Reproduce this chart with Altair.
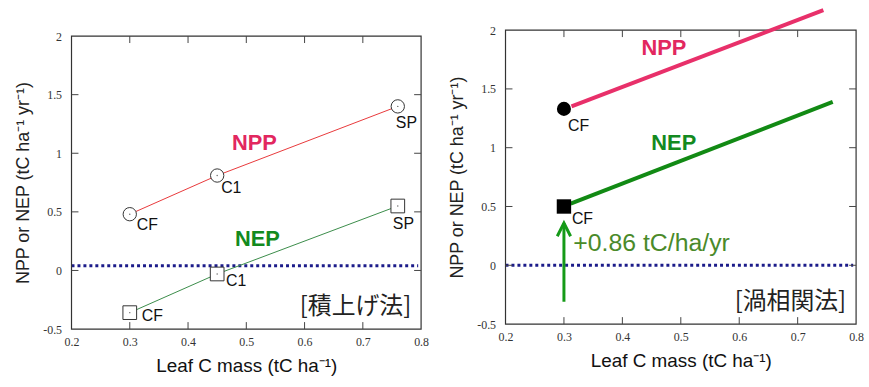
import altair as alt
import pandas as pd

# ---------------- data ----------------
# Left panel: biometric (積上げ法)
sites = ["CF", "C1", "SP"]
leaf_c = [0.30, 0.45, 0.76]
npp_biometric = [0.48, 0.81, 1.40]
nep_biometric = [-0.36, -0.03, 0.55]
zero_line_left = 0.04

# Right panel: eddy covariance (渦相関法)
eddy_sites = ["CF"]
eddy_leaf_c = [0.30]
eddy_npp = [1.33]
eddy_nep = [0.50]
eddy_npp_line_x = [0.313, 0.744]
eddy_npp_line_y = [1.351, 2.17]
eddy_nep_line_x = [0.3115, 0.76]
eddy_nep_line_y = [0.524, 1.39]
arrow_x = [0.30, 0.30]
arrow_y = [-0.31, 0.36]
gain_label = "+0.86 tC/ha/yr"
gain_pos = [0.316, 0.19]
zero_line_right = 0.0
zero_line_x = [0.2, 0.795]

# axes
x_ticks = [0.2, 0.3, 0.4, 0.5, 0.6, 0.7, 0.8]
y_ticks = [-0.5, 0, 0.5, 1, 1.5, 2]
x_inner_ticks = [0.3, 0.4, 0.5, 0.6, 0.7]
y_inner_ticks = [0, 0.5, 1, 1.5]
x_title = "Leaf C mass (tC ha⁻¹)"
y_title = "NPP or NEP (tC ha⁻¹ yr⁻¹)"

# label positions of series names and panel tags
npp_tag_left = [0.514, 1.09]
nep_tag_left = [0.519, 0.27]
npp_tag_right = [0.471, 1.85]
nep_tag_right = [0.488, 1.04]
method_left = "[積上げ法]"
method_right = "[渦相関法]"
method_pos = [0.783, -0.31]

# ---------------- styles ----------------
FONT = "Liberation Sans"
NARROW = "Liberation Sans Narrow"
CJK = "Noto Sans CJK JP"
NPP_TXT = "#e2275f"
NEP_TXT = "#138a20"
TICK_LEN = 7
FRAME = "#333"

xscale = alt.Scale(domain=[0.2, 0.8], nice=False, zero=False)
lab_expr = "'' + datum.value"
xaxis = alt.Axis(title=x_title, values=x_ticks, labelExpr=lab_expr, ticks=False, domain=False,
                 grid=False, labelPadding=8, titlePadding=9, labelFont=NARROW, labelFontSize=12,
                 labelColor="#333", titleFont=FONT, titleFontSize=19, titleFontWeight="normal",
                 titleColor="#111", labelFlush=False)
yaxis = alt.Axis(title=y_title, values=y_ticks, labelExpr=lab_expr, ticks=False, domain=False,
                 grid=False, labelPadding=10, titlePadding=10, labelFont=NARROW, labelFontSize=12,
                 labelColor="#333", titleFont=FONT, titleFontSize=18, titleFontWeight="normal",
                 titleColor="#222", labelFlush=False)


def make_panel(top, H, W):
    """Return encoding helpers for a panel whose plot area spans y = top..H, x = 0..W."""
    yscale = alt.Scale(domain=[-0.5, 2], nice=False, zero=False, range=[H, top])

    def X(f="x"):
        return alt.X(f, type="quantitative", scale=xscale, axis=xaxis)

    def Y(f="y"):
        return alt.Y(f, type="quantitative", scale=yscale, axis=yaxis)

    xt = pd.DataFrame({"x": x_inner_ticks})
    yt = pd.DataFrame({"y": y_inner_ticks})
    st = dict(color="#444", strokeWidth=1)
    frame = pd.DataFrame({"f": [0]})
    layers = [
        alt.Chart(frame).mark_rect(fill="transparent", stroke=FRAME, strokeWidth=1.2).encode(
            x=alt.value(0), x2=alt.value(W), y=alt.value(top), y2=alt.value(H)),
        alt.Chart(xt).mark_rule(**st).encode(x=X(), y=alt.value(H), y2=alt.value(H - TICK_LEN)),
        alt.Chart(xt).mark_rule(**st).encode(x=X(), y=alt.value(top), y2=alt.value(top + TICK_LEN)),
        alt.Chart(yt).mark_rule(**st).encode(y=Y(), x=alt.value(0), x2=alt.value(TICK_LEN)),
        alt.Chart(yt).mark_rule(**st).encode(y=Y(), x=alt.value(W), x2=alt.value(W - TICK_LEN)),
    ]
    return X, Y, layers


def zero_layer(X, Y, level):
    df = pd.DataFrame({"x": [zero_line_x[0]], "x2": [zero_line_x[1]], "y": [level]})
    return alt.Chart(df).mark_rule(color="#1c1c8a", strokeWidth=3, strokeDash=[3, 3]).encode(
        x=X(), x2="x2", y=Y())


def text_at(X, Y, txt, pos, **kw):
    df = pd.DataFrame({"x": [pos[0]], "y": [pos[1]], "t": [txt]})
    return alt.Chart(df).mark_text(**kw).encode(x=X(), y=Y(), text="t")


# ---------------- left panel ----------------
WL, TOPL, HL = 352, 6, 301
X, Y, ticks = make_panel(TOPL, HL, WL)
left_df = pd.DataFrame({"site": sites, "x": leaf_c, "npp": npp_biometric, "nep": nep_biometric})

left_layers = [zero_layer(X, Y, zero_line_left)] + ticks
left_layers += [
    alt.Chart(left_df).mark_line(color="#e8383a", strokeWidth=1).encode(x=X(), y=Y("npp")),
    alt.Chart(left_df).mark_line(color="#3a8c4a", strokeWidth=1).encode(x=X(), y=Y("nep")),
    alt.Chart(left_df).mark_point(shape="circle", size=180, filled=False, fill="white",
                                  fillOpacity=1, stroke="#333", strokeWidth=1, opacity=1
                                  ).encode(x=X(), y=Y("npp")),
    alt.Chart(left_df).mark_point(shape="square", size=190, filled=False, fill="white",
                                  fillOpacity=1, stroke="#333", strokeWidth=1, opacity=1
                                  ).encode(x=X(), y=Y("nep")),
    alt.Chart(left_df).mark_circle(size=2, color="#666", opacity=1).encode(x=X(), y=Y("npp")),
    alt.Chart(left_df).mark_circle(size=2, color="#666", opacity=1).encode(x=X(), y=Y("nep")),
]
npp_off = {"CF": (7, 11), "C1": (4, 13), "SP": (-2, 17)}
nep_off = {"CF": (12, 3), "C1": (9, 7), "SP": (-5, 18)}
for s in sites:
    dfp = left_df[left_df.site == s]
    dx, dy = npp_off[s]
    left_layers.append(alt.Chart(dfp).mark_text(font=FONT, fontSize=16, color="#111", align="left",
                                                 baseline="middle", dx=dx, dy=dy)
                       .encode(x=X(), y=Y("npp"), text="site"))
    dx, dy = nep_off[s]
    left_layers.append(alt.Chart(dfp).mark_text(font=FONT, fontSize=16, color="#111", align="left",
                                                 baseline="middle", dx=dx, dy=dy)
                       .encode(x=X(), y=Y("nep"), text="site"))
left_layers += [
    text_at(X, Y, "NPP", npp_tag_left, font=FONT, fontSize=22, fontWeight="bold", color=NPP_TXT),
    text_at(X, Y, "NEP", nep_tag_left, font=FONT, fontSize=22, fontWeight="bold", color=NEP_TXT),
    text_at(X, Y, method_left, method_pos, font=CJK, fontSize=24, color="#222", align="right"),
]
left = alt.layer(*left_layers).properties(width=WL, height=HL)

# ---------------- right panel ----------------
WR, TOPR, HR = 353, 0, 296
X, Y, ticks = make_panel(TOPR, HR, WR)
npp_line = pd.DataFrame({"x": eddy_npp_line_x, "y": eddy_npp_line_y})
nep_line = pd.DataFrame({"x": eddy_nep_line_x, "y": eddy_nep_line_y})
eddy_df = pd.DataFrame({"site": eddy_sites, "x": eddy_leaf_c, "npp": eddy_npp, "nep": eddy_nep})
arrow_df = pd.DataFrame({"x": arrow_x, "y": arrow_y})
arrow_tip = arrow_df.tail(1)

right_layers = [zero_layer(X, Y, zero_line_right)] + ticks
right_layers += [
    alt.Chart(npp_line).mark_line(color="#e8306a", strokeWidth=4).encode(x=X(), y=Y()),
    alt.Chart(nep_line).mark_line(color="#128a14", strokeWidth=4).encode(x=X(), y=Y()),
    alt.Chart(arrow_df).mark_line(color="#159a18", strokeWidth=3).encode(x=X(), y=Y()),
    alt.Chart(arrow_tip).mark_point(shape="M-1,2L0,0L1,2", size=180, filled=False,
                                    stroke="#159a18", strokeWidth=3, opacity=1
                                    ).encode(x=X(), y=Y()),
    alt.Chart(eddy_df).mark_point(shape="circle", size=200, filled=True, color="black",
                                  opacity=1).encode(x=X(), y=Y("npp")),
    alt.Chart(eddy_df).mark_point(shape="square", size=210, filled=True, color="black",
                                  opacity=1).encode(x=X(), y=Y("nep")),
    alt.Chart(eddy_df).mark_text(font=FONT, fontSize=16, color="#111", align="left",
                                 baseline="middle", dx=4, dy=17).encode(x=X(), y=Y("npp"), text="site"),
    alt.Chart(eddy_df).mark_text(font=FONT, fontSize=16, color="#111", align="left",
                                 baseline="middle", dx=8, dy=13).encode(x=X(), y=Y("nep"), text="site"),
    text_at(X, Y, gain_label, gain_pos, font=FONT, fontSize=25, color="#4a8a2a", align="left"),
    text_at(X, Y, "NPP", npp_tag_right, font=FONT, fontSize=22, fontWeight="bold", color=NPP_TXT),
    text_at(X, Y, "NEP", nep_tag_right, font=FONT, fontSize=22, fontWeight="bold", color=NEP_TXT),
    text_at(X, Y, method_right, method_pos, font=CJK, fontSize=24, color="#222", align="right"),
]
right = alt.layer(*right_layers).properties(width=WR, height=HR)

chart = alt.hconcat(left, right, spacing=19).properties(
    padding={"left": 14, "top": 0, "right": 5, "bottom": 5},
    background="white",
).configure_view(stroke="transparent")

chart.save("out.html", embed_options={"renderer": "svg", "actions": False})
